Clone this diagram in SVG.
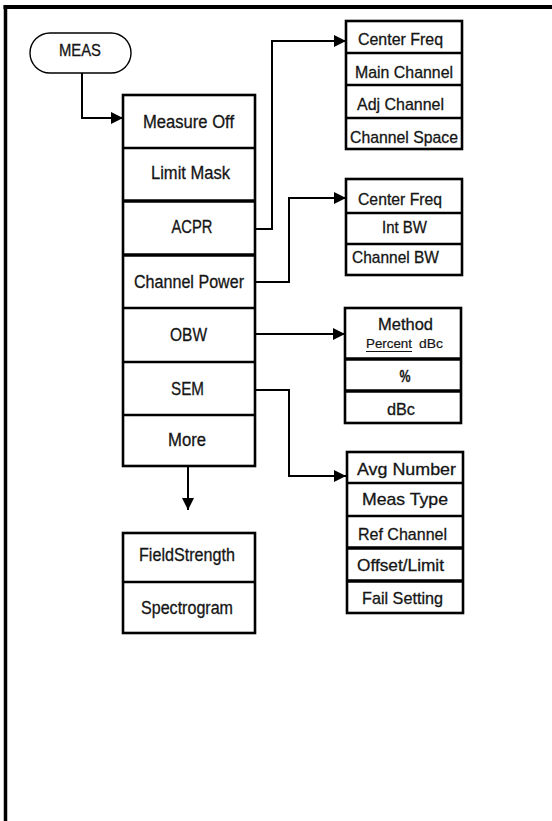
<svg xmlns="http://www.w3.org/2000/svg" width="552" height="821" viewBox="0 0 552 821">
<defs>
<style>
.bx{fill:#fff;stroke:#000;stroke-width:2.6}
.dv{stroke:#000;stroke-width:2.6}
.dvt{stroke:#000;stroke-width:3.4}
.cn{fill:none;stroke:#000;stroke-width:2}
text{font-family:"Liberation Sans",Arial,sans-serif;fill:#151515;stroke:#151515;stroke-width:0.3;text-anchor:middle}
.l{font-size:18px}
.s{font-size:17px}
.m{font-size:16px}
.t{font-size:13px;stroke-width:0.2}
</style>
<marker id="ah" markerUnits="userSpaceOnUse" markerWidth="13" markerHeight="12" refX="12" refY="6" orient="auto">
<path d="M0,0 L12,6 L0,12 z" fill="#000"/>
</marker>
</defs>
<rect width="552" height="821" fill="#fff"/>
<g id="frame">
<line x1="3.5" y1="7" x2="552" y2="7" stroke="#000" stroke-width="4"/>
<line x1="5.5" y1="5" x2="5.5" y2="821" stroke="#000" stroke-width="3.5"/>
</g>
<g id="connectors">
<path class="cn" d="M82,73 V118 H123" marker-end="url(#ah)"/>
<path class="cn" d="M255,229 H272 V41 H346" marker-end="url(#ah)"/>
<path class="cn" d="M255,282 H289 V198 H346" marker-end="url(#ah)"/>
<path class="cn" d="M255,334 H345" marker-end="url(#ah)"/>
<path class="cn" d="M255,390 H289 V476 H346" marker-end="url(#ah)"/>
<path class="cn" d="M188,467 V510" marker-end="url(#ah)"/>
</g>
<g id="meas">
<rect x="30" y="33" width="101" height="40" rx="20" ry="20" fill="#fff" stroke="#000" stroke-width="1.4"/>
<text class="m" x="80" y="56" textLength="42" lengthAdjust="spacingAndGlyphs">MEAS</text>
</g>
<g id="meas-menu">
<rect class="bx" x="123" y="95" width="132" height="371"/>
<line class="dv" x1="123" y1="148" x2="255" y2="148"/>
<line class="dvt" x1="123" y1="201" x2="255" y2="201"/>
<line class="dvt" x1="123" y1="255" x2="255" y2="255"/>
<line class="dv" x1="123" y1="308" x2="255" y2="308"/>
<line class="dv" x1="123" y1="362" x2="255" y2="362"/>
<line class="dv" x1="123" y1="415" x2="255" y2="415"/>
<text class="l" x="188.5" y="128" textLength="91" lengthAdjust="spacingAndGlyphs">Measure Off</text>
<text class="l" x="190.5" y="179" textLength="79" lengthAdjust="spacingAndGlyphs">Limit Mask</text>
<text class="l" x="192" y="233" textLength="41" lengthAdjust="spacingAndGlyphs">ACPR</text>
<text class="l" x="189" y="288" textLength="110" lengthAdjust="spacingAndGlyphs">Channel Power</text>
<text class="l" x="188.5" y="341" textLength="37" lengthAdjust="spacingAndGlyphs">OBW</text>
<text class="l" x="187.5" y="395" textLength="33" lengthAdjust="spacingAndGlyphs">SEM</text>
<text class="l" x="187" y="446" textLength="38" lengthAdjust="spacingAndGlyphs">More</text>
</g>
<g id="acpr-menu">
<rect class="bx" x="346" y="21" width="116" height="128"/>
<line class="dv" x1="346" y1="53" x2="462" y2="53"/>
<line class="dv" x1="346" y1="85" x2="462" y2="85"/>
<line class="dv" x1="346" y1="118" x2="462" y2="118"/>
<text class="s" x="400.5" y="45" textLength="85" lengthAdjust="spacingAndGlyphs">Center Freq</text>
<text class="s" x="404" y="78" textLength="98" lengthAdjust="spacingAndGlyphs">Main Channel</text>
<text class="s" x="400.5" y="110" textLength="87" lengthAdjust="spacingAndGlyphs">Adj Channel</text>
<text class="s" x="404" y="143" textLength="108" lengthAdjust="spacingAndGlyphs">Channel Space</text>
</g>
<g id="chpower-menu">
<rect class="bx" x="346" y="179" width="116" height="96"/>
<line class="dv" x1="346" y1="213" x2="462" y2="213"/>
<line class="dv" x1="346" y1="244" x2="462" y2="244"/>
<text class="s" x="400" y="205" textLength="84" lengthAdjust="spacingAndGlyphs">Center Freq</text>
<text class="s" x="404.5" y="233" textLength="45" lengthAdjust="spacingAndGlyphs">Int BW</text>
<text class="s" x="395.5" y="263" textLength="87" lengthAdjust="spacingAndGlyphs">Channel BW</text>
</g>
<g id="obw-menu">
<rect class="bx" x="345" y="308" width="116" height="115"/>
<line class="dvt" x1="345" y1="359" x2="461" y2="359"/>
<line class="dvt" x1="345" y1="391" x2="461" y2="391"/>
<text class="s" x="405.5" y="330" textLength="55" lengthAdjust="spacingAndGlyphs">Method</text>
<text class="t" x="389" y="348" textLength="46" lengthAdjust="spacingAndGlyphs">Percent</text>
<line x1="366" y1="351.5" x2="412" y2="351.5" stroke="#151515" stroke-width="1.2"/>
<text class="t" x="431" y="348" textLength="24" lengthAdjust="spacingAndGlyphs">dBc</text>
<text class="s" x="405" y="382" font-weight="bold" textLength="11" lengthAdjust="spacingAndGlyphs">%</text>
<text class="s" x="401" y="415" textLength="28" lengthAdjust="spacingAndGlyphs">dBc</text>
</g>
<g id="sem-menu">
<rect class="bx" x="347" y="452" width="116" height="161"/>
<line class="dv" x1="347" y1="483" x2="463" y2="483"/>
<line class="dv" x1="347" y1="516" x2="463" y2="516"/>
<line class="dvt" x1="347" y1="548" x2="463" y2="548"/>
<line class="dvt" x1="347" y1="581" x2="463" y2="581"/>
<text class="s" x="406.5" y="475" textLength="99" lengthAdjust="spacingAndGlyphs">Avg Number</text>
<text class="s" x="405" y="505" textLength="86" lengthAdjust="spacingAndGlyphs">Meas Type</text>
<text class="s" x="402.5" y="540" textLength="89" lengthAdjust="spacingAndGlyphs">Ref Channel</text>
<text class="s" x="400.5" y="571" textLength="87" lengthAdjust="spacingAndGlyphs">Offset/Limit</text>
<text class="s" x="402.5" y="604" textLength="81" lengthAdjust="spacingAndGlyphs">Fail Setting</text>
</g>
<g id="more-menu">
<rect class="bx" x="123" y="533" width="132" height="100"/>
<line class="dv" x1="123" y1="582" x2="255" y2="582"/>
<text class="l" x="187" y="561" textLength="96" lengthAdjust="spacingAndGlyphs">FieldStrength</text>
<text class="l" x="187" y="614" textLength="92" lengthAdjust="spacingAndGlyphs">Spectrogram</text>
</g>
</svg>
